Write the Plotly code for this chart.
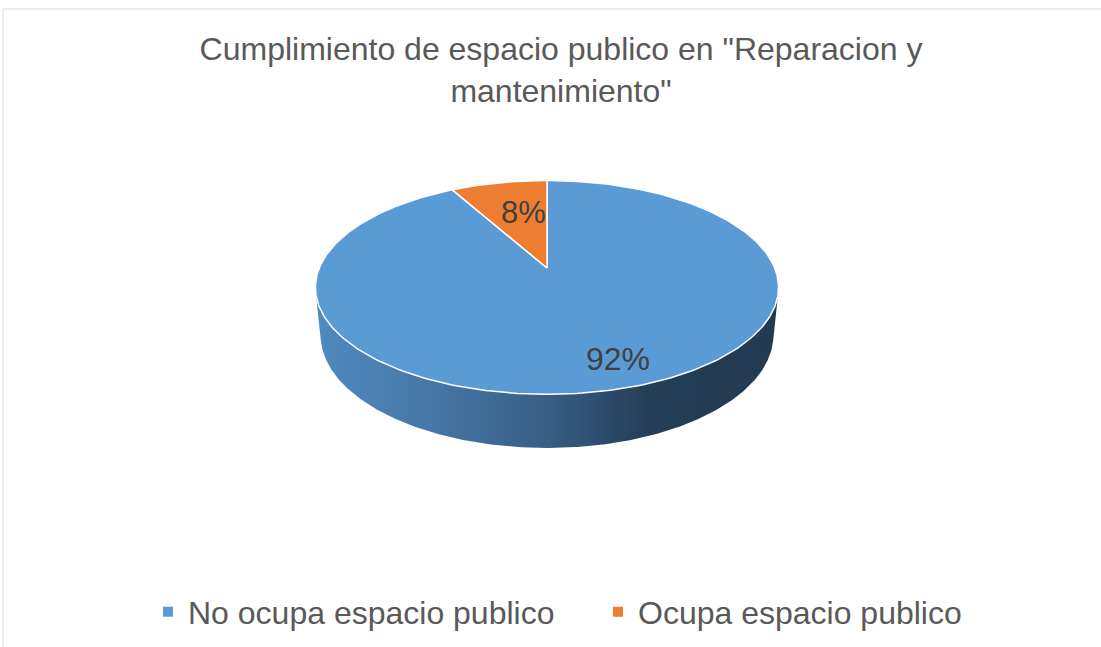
import numpy as np
import plotly.graph_objects as go

# ---------------- data ----------------
labels = ["No ocupa espacio publico", "Ocupa espacio publico"]
values = [92, 8]
label_texts = ["92%", "8%"]
colors = ["#5B9BD5", "#ED7D31"]
title_text = 'Cumplimiento de espacio publico en "Reparacion y<br>mantenimiento"'

# ---------------- layout / style params ----------------
W, H_FIG = 1101, 647
CX, CY = 547, 268          # projected pie centre (px)
FOCAL = 1118.0
DIST = 4.91
TILT = np.radians(27)
THICK = 0.236
FONT = "Liberation Sans, Arial, sans-serif"
side_scale = [[0.0, "#508abf"], [0.25, "#4677a6"], [0.5, "#375e85"],
              [0.72, "#243e57"], [1.0, "#223a51"]]
label_radius = [0.78, 0.62]
label_nudge = [(20, 0), (8, 0)]   # px
label_size = [32, 31]


def project(X, Y, Z):
    c, s = np.cos(TILT), np.sin(TILT)
    depth = DIST - Y * s + Z * c
    sx = FOCAL * X / depth
    sy = FOCAL * (Y * c + Z * s) / depth
    return CX + sx, CY - sy


def hull(px, py):
    pts = sorted(set(zip(np.round(px, 3), np.round(py, 3))))

    def cross(o, a, b):
        return (a[0] - o[0]) * (b[1] - o[1]) - (a[1] - o[1]) * (b[0] - o[0])
    lower, upper = [], []
    for p in pts:
        while len(lower) >= 2 and cross(lower[-2], lower[-1], p) <= 0:
            lower.pop()
        lower.append(p)
    for p in reversed(pts):
        while len(upper) >= 2 and cross(upper[-2], upper[-1], p) <= 0:
            upper.pop()
        upper.append(p)
    h = lower[:-1] + upper[:-1]
    h.append(h[0])
    return [p[0] for p in h], [p[1] for p in h]


vals = np.array(values, dtype=float)
frac = vals / vals.sum()
bounds = np.concatenate([[0], np.cumsum(frac)]) * 2 * np.pi

fig = go.Figure()

# side wall (cylinder silhouette)
t = np.linspace(0, 2 * np.pi, 721)
tx, ty = project(np.sin(t), np.zeros_like(t), np.cos(t))
bx, by = project(np.sin(t), -THICK * np.ones_like(t), np.cos(t))
hx, hy = hull(np.concatenate([tx, bx]), np.concatenate([ty, by]))
fig.add_trace(go.Scatter(
    x=hx, y=hy, mode="lines", fill="toself", line=dict(width=0),
    fillgradient=dict(type="horizontal", colorscale=side_scale),
    hoverinfo="skip", showlegend=False))

# top faces of slices
for i in range(len(values)):
    th = np.linspace(bounds[i], bounds[i + 1], 300)
    ax, ay = project(np.sin(th), np.zeros_like(th), np.cos(th))
    ox, oy = project(0.0, 0.0, 0.0)
    xs = np.concatenate([[ox], ax, [ox]])
    ys = np.concatenate([[oy], ay, [oy]])
    fig.add_trace(go.Scatter(
        x=xs, y=ys, mode="lines", fill="toself", fillcolor=colors[i],
        line=dict(color="white", width=1.5), hoverinfo="skip",
        showlegend=False))

# data labels
for i in range(len(values)):
    mid = (bounds[i] + bounds[i + 1]) / 2
    r = label_radius[i]
    lx, ly = project(r * np.sin(mid), 0.0, r * np.cos(mid))
    fig.add_annotation(x=lx + label_nudge[i][0], y=ly + label_nudge[i][1],
                       text=label_texts[i], showarrow=False,
                       font=dict(family=FONT, size=label_size[i],
                                 color="#404040"))

# legend entries
for i in range(len(values)):
    fig.add_trace(go.Scatter(
        x=[None], y=[None], mode="markers", name=labels[i],
        marker=dict(symbol="square", size=10, color=colors[i])))

fig.update_layout(
    width=W, height=H_FIG,
    margin=dict(l=0, r=0, t=0, b=0),
    paper_bgcolor="white", plot_bgcolor="white",
    xaxis=dict(range=[0, W], visible=False, fixedrange=True),
    yaxis=dict(range=[H_FIG, 0], visible=False, fixedrange=True),
    title=dict(text=title_text, x=561 / W, xanchor="center",
               xref="paper", yref="container", y=1 - 60 / H_FIG,
               yanchor="top",
               font=dict(family=FONT, size=32, color="#595959")),
    legend=dict(orientation="h", x=148 / W, xanchor="left",
                y=1 - 612 / H_FIG, yanchor="middle",
                font=dict(family=FONT, size=32, color="#595959"),
                entrywidth=405, entrywidthmode="pixels",
                bgcolor="rgba(0,0,0,0)"),
    shapes=[
        dict(type="line", xref="paper", yref="paper", x0=3 / W, x1=1,
             y0=1 - 9 / H_FIG, y1=1 - 9 / H_FIG,
             line=dict(color="#d9d9d9", width=1)),
        dict(type="line", xref="paper", yref="paper", x0=3 / W, x1=3 / W,
             y0=0, y1=1 - 9 / H_FIG, line=dict(color="#d9d9d9", width=1)),
    ],
)

fig.write_html("out.html",
               config={"displayModeBar": False},
               post_script="document.body.style.margin='0';"
                           "document.body.style.overflow='hidden';")
